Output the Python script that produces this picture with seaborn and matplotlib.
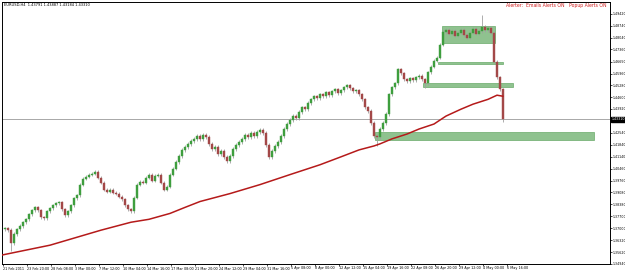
import numpy as np
import pandas as pd
import matplotlib
matplotlib.use("Agg")
import matplotlib.pyplot as plt
import seaborn as sns

# ---------------- data ----------------
title_text = "EURUSD,H4  1.43791 1.43887 1.43184 1.43310"
alert_text = "Alerter:  Emails Alerts ON   Popup Alerts ON"

first_open = 1.3695
closes = [
    1.3700, 1.3689, 1.3614, 1.3666, 1.3694, 1.3712, 1.3735, 1.3752, 1.3781, 1.3804,
    1.3821, 1.3804, 1.3763, 1.3758, 1.3798, 1.3815, 1.3832, 1.3844, 1.3850, 1.3809,
    1.3775, 1.3798, 1.3832, 1.3873, 1.3890, 1.3953, 1.3988, 1.3999, 1.4011, 1.4016,
    1.4028, 1.3993, 1.3965, 1.3924, 1.3913, 1.3924, 1.3907, 1.3901, 1.3884, 1.3867,
    1.3832, 1.3809, 1.3798, 1.3878, 1.3953, 1.3970, 1.3965, 1.3993, 1.4011, 1.3976,
    1.4005, 1.4011, 1.3965, 1.3924, 1.3942, 1.4011, 1.4045, 1.4085, 1.4120, 1.4154,
    1.4172, 1.4189, 1.4206, 1.4218, 1.4235, 1.4218, 1.4241, 1.4229, 1.4189, 1.4160,
    1.4172, 1.4131, 1.4149, 1.4114, 1.4091, 1.4120, 1.4160, 1.4183, 1.4200, 1.4218,
    1.4241, 1.4229, 1.4252, 1.4235, 1.4258, 1.4269, 1.4252, 1.4183, 1.4114, 1.4149,
    1.4177, 1.4200, 1.4235, 1.4275, 1.4304, 1.4327, 1.4350, 1.4338, 1.4373, 1.4401,
    1.4390, 1.4425, 1.4447, 1.4465, 1.4453, 1.4476, 1.4465, 1.4488, 1.4471, 1.4494,
    1.4505, 1.4482, 1.4499, 1.4517, 1.4528, 1.4511, 1.4494, 1.4499, 1.4476, 1.4447,
    1.4401, 1.4379, 1.4310, 1.4235, 1.4229, 1.4275, 1.4310, 1.4361, 1.4476, 1.4517,
    1.4540, 1.4620, 1.4597, 1.4562, 1.4551, 1.4568, 1.4557, 1.4574, 1.4585, 1.4562,
    1.4540, 1.4603, 1.4637, 1.4672, 1.4689, 1.4764, 1.4838, 1.4850, 1.4827, 1.4844,
    1.4816, 1.4833, 1.4850, 1.4821, 1.4804, 1.4833, 1.4856, 1.4827, 1.4844, 1.4867,
    1.4850, 1.4861, 1.4833, 1.4666, 1.4574, 1.4505, 1.4331,
]
# notable wick extremes (candle index -> price)
wick_low_idx = [2, 124, 140, 166]
wick_low_val = [1.3570, 1.4177, 1.4511, 1.4318]
wick_high_idx = [159, 166]
wick_high_val = [1.4936, 1.4510]

# 200-period moving average (candle index, price)
ma_idx = [-1, 15, 32, 42, 48, 55, 60, 65, 75, 85, 95, 105, 112, 118, 123, 125, 129,
          134, 138, 143, 147, 152, 156, 161, 164, 166]
ma_val = [1.3545, 1.3602, 1.3689, 1.3735, 1.3752, 1.3786, 1.3821, 1.3855, 1.3901,
          1.3953, 1.4011, 1.4068, 1.4114, 1.4154, 1.4177, 1.4189, 1.4218, 1.4246,
          1.4275, 1.4304, 1.4350, 1.4390, 1.4419, 1.4447, 1.4471, 1.4465]

# support / resistance zones: (start idx, end idx, low, high)
zone_start = [145.7, 144.3, 139.3, 123.3]
zone_end = [163.3, 166.0, 169.3, 196.3]
zone_low = [1.4775, 1.4649, 1.4517, 1.4212]
zone_high = [1.4873, 1.4666, 1.4540, 1.4258]

current_price = 1.4331
current_label = "1.43310"

y_ticks = [1.49420, 1.48740, 1.48040, 1.47360, 1.46650, 1.45960, 1.45280, 1.44600,
           1.43920, 1.43230, 1.42540, 1.41840, 1.41140, 1.40460, 1.39760, 1.39080,
           1.38380, 1.37700, 1.37000, 1.36320, 1.35620, 1.34940]
# the 1.43230 label is hidden behind the current-price box in the reference
y_labels = ["1.49420", "1.48740", "1.48040", "1.47360", "1.46650", "1.45960",
            "1.45280", "1.44600", "1.43920", "", "1.42540", "1.41840",
            "1.41140", "1.40460", "1.39760", "1.39080", "1.38380", "1.37700",
            "1.37000", "1.36320", "1.35620", "1.34940"]
x_labels = ["21 Feb 2011", "23 Feb 20:00", "28 Feb 08:00", "3 Mar 00:00",
            "7 Mar 12:00", "10 Mar 04:00", "14 Mar 16:00", "17 Mar 08:00",
            "21 Mar 20:00", "24 Mar 12:00", "29 Mar 04:00", "31 Mar 16:00",
            "5 Apr 08:00", "8 Apr 00:00", "12 Apr 12:00", "15 Apr 04:00",
            "19 Apr 16:00", "22 Apr 08:00", "26 Apr 20:00", "29 Apr 12:00",
            "4 May 00:00", "6 May 16:00"]

# ---------------- build OHLC ----------------
n = len(closes)
opens = [first_open] + closes[:-1]
df = pd.DataFrame({"idx": np.arange(n), "open": opens, "close": closes})
df["high"] = df[["open", "close"]].max(axis=1) + 0.0010
df["low"] = df[["open", "close"]].min(axis=1) - 0.0010
for i, v in zip(wick_low_idx, wick_low_val):
    df.loc[i, "low"] = v
for i, v in zip(wick_high_idx, wick_high_val):
    df.loc[i, "high"] = v
df["up"] = df["close"] >= df["open"]
ma = pd.DataFrame({"idx": ma_idx, "ma": ma_val})

# ---------------- plot ----------------
sns.set_theme(style="white")
plt.rcParams["font.family"] = ["DejaVu Sans"]

W, H = 625, 270
fig = plt.figure(figsize=(W / 100, H / 100), dpi=100)
ax = fig.add_axes([2 / W, 6 / H, 608 / W, 262 / H])

bull, bear = "#3e9e3e", "#a34848"
wick_col = "#a0a0a0"

# zones
for s, e, lo, hi in zip(zone_start, zone_end, zone_low, zone_high):
    ax.add_patch(plt.Rectangle((s, lo), e - s, hi - lo, facecolor="#8fc28f",
                               edgecolor="#6aaa6a", lw=0.5, zorder=1))

# current price line
ax.axhline(current_price, color="#a8a8a8", lw=0.7, zorder=1.5)

# wicks
ax.vlines(df["idx"], df["low"], df["high"], color=wick_col, lw=0.6, zorder=2)
# bodies
body_bottom = df[["open", "close"]].min(axis=1)
body_h = (df["close"] - df["open"]).abs().clip(lower=0.0003)
colors = np.where(df["up"], bull, bear)
ax.bar(df["idx"], body_h, bottom=body_bottom, width=0.5, color=colors,
       edgecolor=colors, lw=0.3, zorder=3)

# moving average
sns.lineplot(data=ma, x="idx", y="ma", ax=ax, color="#b51a1a", lw=1.1,
             zorder=4, legend=False)

ax.set_xlim(-1, 201.67)
ax.set_ylim(1.3493, 1.5011)

# y axis on the right
ax.yaxis.tick_right()
ax.set_yticks(y_ticks)
ax.set_yticklabels(y_labels)
ax.tick_params(axis="y", labelsize=2.3, length=1.5, width=0.5, pad=0.6,
               colors="#000000", right=True, left=False)

# x axis
x_pos = np.arange(len(x_labels)) * 8 - 0.667
ax.set_xticks(x_pos)
ax.set_xticklabels(x_labels, ha="left")
ax.tick_params(axis="x", labelsize=2.4, length=1.5, width=0.5, pad=0.3,
               colors="#000000", bottom=True)
ax.set_xlabel("")
ax.set_ylabel("")

for sp in ax.spines.values():
    sp.set_visible(True)
    sp.set_color("#000000")
    sp.set_linewidth(0.7)

# current price box
ax.annotate(current_label, xy=(1.0, current_price), xycoords=("axes fraction", "data"),
            xytext=(1.2, 0), textcoords="offset points", fontsize=2.3, color="white",
            va="center", ha="left", annotation_clip=False,
            bbox=dict(boxstyle="square,pad=0.2", fc="black", ec="black"))

fig.text(4 / W, 1 - 5 / H, title_text, fontsize=2.6, color="black", va="center", ha="left")
fig.text(607 / W, 1 - 6 / H, alert_text, fontsize=3.3, color="#d02020", va="center", ha="right")

fig.savefig("out.png", dpi=100)
